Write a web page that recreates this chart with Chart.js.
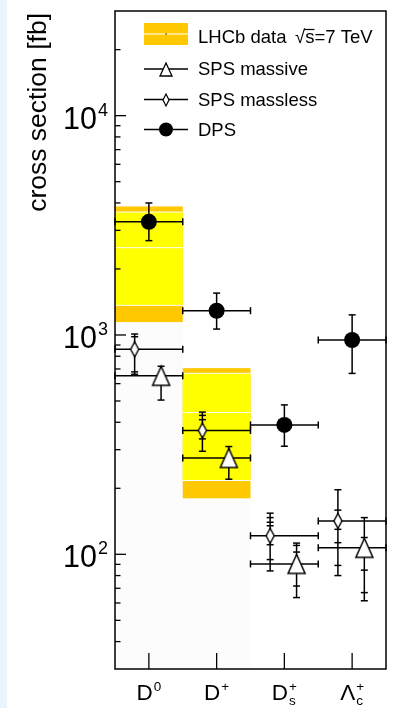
<!DOCTYPE html>
<html><head><meta charset="utf-8">
<script src="https://cdn.jsdelivr.net/npm/chart.js@4/dist/chart.umd.min.js"></script>
<style>
html,body{margin:0;padding:0;background:#ebf3fb;width:397px;height:708px;overflow:hidden;}
#wrap{position:absolute;left:7px;top:0;width:390px;height:708px;background:#fff;}
canvas{display:block;}
</style></head><body>
<div id="wrap"><canvas id="c" width="390" height="708"></canvas></div>
<script>
// ---------------- data ----------------
const categories = ['D0', 'D+', 'Ds+', 'Lc+'];
const xTickBase = ['D', 'D', 'D', 'Λ'];
const xTickSup  = ['0', '+', '+', '+'];
const xTickSub  = ['', '', 's', 'c'];
const yTickValues = [100, 1000, 10000];
const yTickBase = ['10', '10', '10'];
const yTickSup  = ['2', '3', '4'];
const yTitle = 'cross section [fb]';

// LHCb data: central value, stat (yellow) and total (orange) half-widths
const lhcbCentral  = [2500, 443, null, null];
const lhcbStatErr  = [1135, 226, null, null];
const lhcbTotalErr = [1355, 263, null, null];

// DPS prediction
const dpsValues   = [3280, 1290, 389, 949];
const dpsUpCaps   = [[3998], [1552], [480], [1235]];
const dpsDownCaps = [[2692], [1064], [311], [668]];

// SPS massless prediction
const spsMasslessValues   = [860, 367, 121.5, 142];
const spsMasslessUpCaps   = [[982, 1010], [411, 430, 445], [135, 140, 147, 154], [159, 197]];
const spsMasslessDownCaps = [[679, 662], [336, 295], [110.6, 94.6, 84], [130, 113, 89, 80]];

// SPS massive prediction
const spsMassiveValues   = [651, 275, 90.4, 107];
const spsMassiveUpCaps   = [[720], [310], [102.4, 109.8, 112.5], [119.3, 147]];
const spsMassiveDownCaps = [[505], [220], [71.7, 63.5], [84.7, 66.9, 61.4]];

const legendLabels = ['LHCb data', 'SPS massive', 'SPS massless', 'DPS'];
const energyLabel = 's=7 TeV';

// ---------------- styles ----------------
const FONT = "'Liberation Sans', Arial, Helvetica, sans-serif";
const ORANGE = '#ffc800', YELLOW = '#ffff00';
const OFF_MASSLESS = -0.21, OFF_MASSIVE = 0.18;

function markerTriangle(w, h, lw) {
  const c = document.createElement('canvas');
  c.width = w + 4; c.height = h + 4;
  const g = c.getContext('2d');
  g.lineWidth = lw; g.strokeStyle = '#000'; g.fillStyle = '#fff';
  g.beginPath(); g.moveTo(c.width / 2, 2); g.lineTo(c.width - 2, c.height - 2); g.lineTo(2, c.height - 2);
  g.closePath(); g.fill(); g.stroke();
  return c;
}
function markerDiamond(w, h, lw) {
  const c = document.createElement('canvas');
  c.width = w + 4; c.height = h + 4;
  const g = c.getContext('2d');
  g.lineWidth = lw; g.strokeStyle = '#000'; g.fillStyle = '#fff';
  g.beginPath(); g.moveTo(c.width / 2, 2); g.lineTo(c.width - 2, c.height / 2);
  g.lineTo(c.width / 2, c.height - 2); g.lineTo(2, c.height / 2);
  g.closePath(); g.fill(); g.stroke();
  return c;
}
const triBig = markerTriangle(17, 19, 1.5), triSmall = markerTriangle(12, 13, 1.3);
const diaBig = markerDiamond(8, 15, 1.4), diaSmall = markerDiamond(6, 12, 1.2);

const pts = (vals, off) => vals.map((v, i) => ({x: i + 0.5 + off, y: v}));

const series = [
  {values: spsMasslessValues, up: spsMasslessUpCaps, down: spsMasslessDownCaps, off: OFF_MASSLESS},
  {values: spsMassiveValues, up: spsMassiveUpCaps, down: spsMassiveDownCaps, off: OFF_MASSIVE},
  {values: dpsValues, up: dpsUpCaps, down: dpsDownCaps, off: 0}
];

function richText(g, base, sup, sub, x, y, baseSize, smallSize, supRaise, subDrop, align) {
  g.font = baseSize + 'px ' + FONT;
  const wb = g.measureText(base).width;
  g.font = smallSize + 'px ' + FONT;
  const ws = sup ? g.measureText(sup).width : 0;
  const wd = sub ? g.measureText(sub).width : 0;
  const total = wb + Math.max(ws, wd) + 1;
  let x0 = align === 'right' ? x - total : (align === 'center' ? x - total / 2 : x);
  g.textAlign = 'left'; g.textBaseline = 'alphabetic';
  g.font = baseSize + 'px ' + FONT;
  g.fillText(base, x0, y);
  g.font = smallSize + 'px ' + FONT;
  if (sup) g.fillText(sup, x0 + wb + 1, y - supRaise);
  if (sub) g.fillText(sub, x0 + wb + 1, y + subDrop);
}

const hepPlugin = {
  id: 'hep',
  beforeDatasetsDraw(chart) {
    const g = chart.ctx, xs = chart.scales.x, ys = chart.scales.y, a = chart.chartArea;
    g.save();
    // LHCb bands
    lhcbCentral.forEach((c, i) => {
      if (c == null) return;
      const x0 = xs.getPixelForValue(i), x1 = xs.getPixelForValue(i + 1);
      const tTop = ys.getPixelForValue(c + lhcbTotalErr[i]), tBot = ys.getPixelForValue(c - lhcbTotalErr[i]);
      const sTop = ys.getPixelForValue(c + lhcbStatErr[i]), sBot = ys.getPixelForValue(c - lhcbStatErr[i]);
      const cy = ys.getPixelForValue(c);
      g.fillStyle = '#fcfcfc';
      g.fillRect(x0, tBot, x1 - x0, a.bottom - tBot);
      g.fillStyle = ORANGE; g.fillRect(x0, tTop, x1 - x0, tBot - tTop);
      g.fillStyle = YELLOW; g.fillRect(x0, sTop, x1 - x0, sBot - sTop);
      g.strokeStyle = '#fff'; g.lineWidth = 1;
      [sTop, cy, sBot].forEach(yy => { g.beginPath(); g.moveTo(x0, yy); g.lineTo(x1, yy); g.stroke(); });
    });
    // error bars
    g.strokeStyle = '#000'; g.lineWidth = 1.5;
    series.forEach(s => {
      s.values.forEach((v, i) => {
        const px = xs.getPixelForValue(i + 0.5 + s.off);
        const py = ys.getPixelForValue(v);
        const x0 = xs.getPixelForValue(i), x1 = xs.getPixelForValue(i + 1);
        g.beginPath(); g.moveTo(x0, py); g.lineTo(x1, py); g.stroke();
        [x0, x1].forEach(xx => { g.beginPath(); g.moveTo(xx, py - 3.5); g.lineTo(xx, py + 3.5); g.stroke(); });
        const ups = s.up[i], downs = s.down[i];
        const yTop = ys.getPixelForValue(Math.max(...ups)), yBot = ys.getPixelForValue(Math.min(...downs));
        g.beginPath(); g.moveTo(px, yTop); g.lineTo(px, yBot); g.stroke();
        ups.concat(downs).forEach(cv => {
          const cy = ys.getPixelForValue(cv);
          g.beginPath(); g.moveTo(px - 3.5, cy); g.lineTo(px + 3.5, cy); g.stroke();
        });
      });
    });
    g.restore();
  },
  afterDatasetsDraw(chart) {
    const g = chart.ctx, xs = chart.scales.x, ys = chart.scales.y, a = chart.chartArea;
    g.save();
    g.fillStyle = '#000'; g.strokeStyle = '#000';
    // frame
    g.lineWidth = 1.5;
    g.strokeRect(a.left, a.top, a.right - a.left, a.bottom - a.top);
    // y ticks (inward)
    g.lineWidth = 1.3;
    for (let d = 10; d <= 10000; d *= 10) {
      for (let m = 1; m <= 9; m++) {
        const v = m * d;
        if (v <= ys.min || v >= ys.max) continue;
        const yy = ys.getPixelForValue(v), len = m === 1 ? 11 : 5.5;
        g.beginPath(); g.moveTo(a.left, yy); g.lineTo(a.left + len, yy); g.stroke();
      }
    }
    // y tick labels
    yTickValues.forEach((v, i) => {
      const yy = ys.getPixelForValue(v);
      richText(g, yTickBase[i], yTickSup[i], '', a.left - 7, yy + 13, 30.5, 18, 13, 0, 'right');
    });
    // x ticks (inward) and labels
    categories.forEach((c, i) => {
      const xx = xs.getPixelForValue(i + 0.5);
      g.beginPath(); g.moveTo(xx, a.bottom); g.lineTo(xx, a.bottom - 16); g.stroke();
      richText(g, xTickBase[i], xTickSup[i], xTickSub[i], xx, a.bottom + 31, 22.5, 13.5, 9.5, 5, 'center');
    });
    // y title
    g.save();
    g.translate(39, 13); g.rotate(-Math.PI / 2);
    g.font = '26.5px ' + FONT; g.textAlign = 'right'; g.textBaseline = 'alphabetic';
    g.fillText(yTitle, 0, 0);
    g.restore();
    // legend
    const lx0 = a.left + 29, lx1 = a.left + 73, lmid = (lx0 + lx1) / 2, tx = a.left + 83;
    g.font = '18.5px ' + FONT; g.textAlign = 'left'; g.textBaseline = 'alphabetic';
    // LHCb entry
    g.fillStyle = ORANGE; g.fillRect(lx0, 23, lx1 - lx0, 22);
    g.strokeStyle = '#fff'; g.lineWidth = 1.2;
    g.beginPath(); g.moveTo(lx0, 34); g.lineTo(lx1, 34); g.stroke();
    g.fillStyle = '#000'; g.fillRect(lmid - 0.5, 33.5, 1.2, 1.2);
    g.fillText(legendLabels[0], tx, 43);
    // sqrt(s)
    const sx = a.left + 180;
    g.fillText('√', sx, 43);
    const wr = g.measureText('√').width;
    g.fillText(energyLabel, sx + wr, 43);
    const wsChar = g.measureText('s').width;
    g.strokeStyle = '#000'; g.lineWidth = 1.2;
    g.beginPath(); g.moveTo(sx + wr - 1, 29.5); g.lineTo(sx + wr + wsChar, 29.5); g.stroke();
    // other entries
    const rows = [{y: 69, img: triSmall, t: 75}, {y: 99.5, img: diaSmall, t: 105.5}, {y: 129.5, img: null, t: 135.5}];
    rows.forEach((r, k) => {
      g.strokeStyle = '#000'; g.lineWidth = 1.5;
      g.beginPath(); g.moveTo(lx0, r.y); g.lineTo(lx1, r.y); g.stroke();
      if (r.img) g.drawImage(r.img, Math.round(lmid - r.img.width / 2), Math.round(r.y - r.img.height / 2));
      else { g.beginPath(); g.arc(lmid, r.y, 7, 0, Math.PI * 2); g.fill(); }
      g.fillText(legendLabels[k + 1], tx, r.t);
    });
    g.restore();
  }
};

new Chart(document.getElementById('c'), {
  type: 'scatter',
  data: {
    datasets: [
      {label: legendLabels[2], data: pts(spsMasslessValues, OFF_MASSLESS), pointStyle: diaBig, pointRadius: 8, showLine: false},
      {label: legendLabels[1], data: pts(spsMassiveValues, OFF_MASSIVE), pointStyle: triBig, pointRadius: 10, showLine: false},
      {label: legendLabels[3], data: pts(dpsValues, 0), pointStyle: 'circle', pointRadius: 8,
       backgroundColor: '#000', borderColor: '#000', borderWidth: 0, showLine: false}
    ]
  },
  options: {
    responsive: false, animation: false, devicePixelRatio: 1, events: [],
    layout: {padding: {left: 108, right: 5, top: 10, bottom: 39}},
    plugins: {legend: {display: false}, tooltip: {enabled: false}},
    scales: {
      x: {type: 'linear', min: 0, max: 4, display: false},
      y: {type: 'logarithmic', min: 30, max: 30000, display: false}
    }
  },
  plugins: [hepPlugin]
});
</script>
</body></html>
